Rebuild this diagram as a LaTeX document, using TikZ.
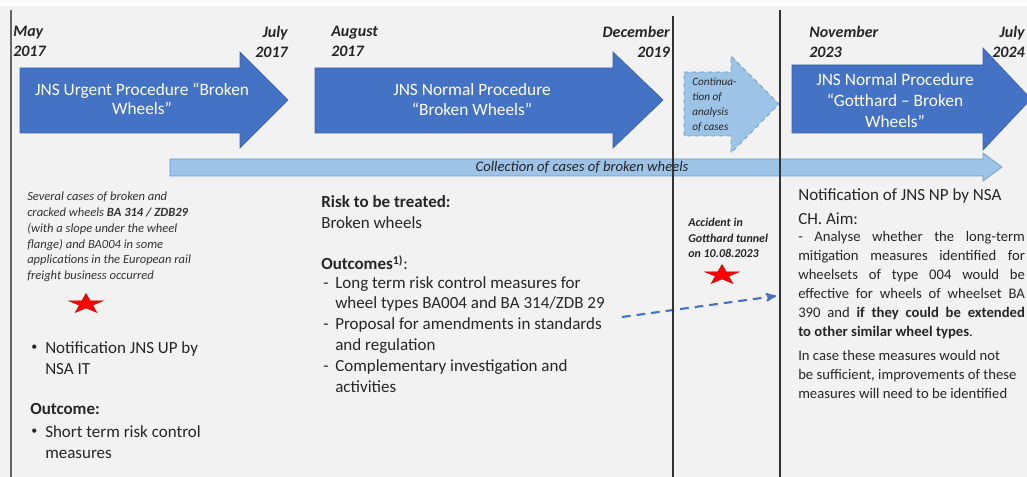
\documentclass[tikz,border=0pt]{standalone}
\usepackage{fontspec}
\setmainfont{Carlito}
\usetikzlibrary{arrows}

\definecolor{slidebg}{HTML}{F2F2F2}
\definecolor{procblue}{HTML}{4472C4}
\definecolor{procedge}{HTML}{3B62AA}
\definecolor{lightblue}{HTML}{9DC3E6}
\definecolor{lightedge}{HTML}{6A9BCB}
\definecolor{txtgray}{HTML}{262626}

\begin{document}
\begin{tikzpicture}[x=0.75pt,y=-0.75pt,>=stealth',
  proc/.style={fill=procblue,draw=procedge,line width=0.5pt},
  bar/.style={fill=lightblue,draw=lightedge,line width=0.5pt},
  cont/.style={fill=lightblue,draw=lightedge,dashed,line width=0.6pt},
  date/.style={inner sep=0pt,font=\fontsize{12}{15}\selectfont\bfseries\itshape,text=txtgray},
  proctxt/.style={inner sep=0pt,align=center,text=white,font=\fontsize{13}{15}\selectfont},
  body/.style={inner sep=0pt,anchor=north west,align=left,text=txtgray,font=\fontsize{12.75}{15.75}\selectfont},
  note/.style={inner sep=0pt,anchor=north west,align=left,text=black!75,font=\fontsize{9.4}{11.8}\selectfont\itshape},
  dot/.style={inner sep=0pt,anchor=west,text=txtgray,font=\fontsize{9}{9}\selectfont},
  sep/.style={line width=1.1pt,draw=black!80}]
  \useasboundingbox (0,0) rectangle (1027,477);
  \clip (0,0) rectangle (1027,477);
  \fill[white] (0,0) rectangle (1027,477);
  \fill[slidebg] (0,6) rectangle (1027,477);

  % procedure arrows
  \fill[proc] (20,68) -- (240,68) -- (240,52) -- (288,100) -- (240,148) -- (240,133) -- (20,133) -- cycle;
  \fill[proc] (315,68) -- (613,68) -- (613,52) -- (663,100) -- (613,148) -- (613,133) -- (315,133) -- cycle;
  \filldraw[cont] (684,72) -- (731,72) -- (731,56) -- (779,104) -- (731,153) -- (731,136) -- (684,136) -- cycle;
  \filldraw[proc] (792,65) -- (983,65) -- (983,48) -- (1031,99) -- (983,150) -- (983,133) -- (792,133) -- cycle;
  \filldraw[bar] (170,159) -- (983,159) -- (983,153) -- (1002,167) -- (983,181) -- (983,176) -- (170,176) -- cycle;

  \node[proctxt,font=\fontsize{13}{13.9}\selectfont] (urgent) at (142,99) {JNS Urgent Procedure “Broken\\Wheels”};
  \node[proctxt] (normal) at (472,100) {JNS Normal Procedure\\“Broken Wheels”};
  \node[proctxt,font=\fontsize{13}{15.75}\selectfont] (gotthard) at (895,101) {JNS Normal Procedure\\“Gotthard – Broken\\Wheels”};
  \node[note,text=txtgray,font=\fontsize{8.4}{11.25}\selectfont\itshape] (contin) at (692,77) {Continua-\\tion of\\analysis\\of cases};
  \node[inner sep=0pt,text=txtgray,font=\fontsize{11}{13}\selectfont\itshape] (collect) at (582,167) {Collection of cases of broken wheels};

  % dates
  \node[date,anchor=north west,align=left] (d1) at (13,26) {May\\2017};
  \node[date,anchor=north east,align=right] (d2) at (288,26) {July\\2017};
  \node[date,anchor=north west,align=left] (d3) at (331,26) {August\\2017};
  \node[date,anchor=north east,align=right] (d4) at (670,26) {December\\2019};
  \node[date,anchor=north west,align=left] (d5) at (809,26) {November\\2023};
  \node[date,anchor=north east,align=right] (d6) at (1025,26) {July\\2024};

  % urgent procedure
  \node[note,text=black!80] (cases) at (27,192) {Several cases of broken and\\cracked wheels \textbf{BA 314 / ZDB29}\\(with a slope under the wheel\\flange) and BA004 in some\\applications in the European rail\\freight business occurred};
  \node[dot] (bul1) at (31,348) {•};
  \node[body,font=\fontsize{12.75}{16.1}\selectfont] (notifup) at (45,341) {Notification JNS UP by\\NSA IT};
  \node[body] (outc) at (30,403) {\textbf{Outcome:}};
  \node[dot] (bul2) at (31,432) {•};
  \node[body,font=\fontsize{12.75}{16.1}\selectfont] (shortterm) at (45,425) {Short term risk control\\measures};

  % normal procedure
  \node[body] (risk) at (321,195) {\textbf{Risk to be treated:}\\Broken wheels};
  \node[body] (outcs) at (321,255) {\textbf{Outcomes\textsuperscript{1)}}:};
  \node[body,font=\fontsize{12.75}{15.6}\selectfont] (measures) at (323,276)
    {\makebox[9pt][l]{-}Long term risk control measures for\\\hspace*{9pt}wheel types BA004 and BA 314/ZDB 29\\
     \makebox[9pt][l]{-}Proposal for amendments in standards\\\hspace*{9pt}and regulation\\
     \makebox[9pt][l]{-}Complementary investigation and\\\hspace*{9pt}activities};

  % accident
  \node[inner sep=0pt,anchor=north west,align=left,text=txtgray,font=\fontsize{9}{11.6}\selectfont\bfseries\itshape] (accid) at (688,218) {Accident in\\Gotthard tunnel\\on 10.08.2023};
  \foreach \sx/\sy in {86/304,722/275}
    \filldraw[red,draw=red!75!black,line width=0.3pt,shift={(\sx,\sy)},xscale=1.75]
      plot[samples at={0,...,9}] ({-90+36*\x}:{10.5-6.5*mod(\x,2)}) -- cycle;

  % Gotthard procedure
  \node[body,font=\fontsize{12.75}{18}\selectfont] (notifnp) at (798,188) {Notification of JNS NP by NSA\\CH. Aim:};
  \node[body,align=justify,text width=170pt,font=\fontsize{11}{14.25}\selectfont] (aim) at (798,231)
    {- Analyse whether the long-term\linebreak mitigation measures identified for\linebreak wheelsets of type 004 would be\linebreak effective for wheels of wheelset BA\linebreak 390 and \textbf{if they could be extended}\linebreak \textbf{to other similar wheel types}.};
  \node[body,font=\fontsize{11}{14.25}\selectfont] (incase) at (798,350) {In case these measures would not\\be sufficient, improvements of these\\measures will need to be identified};

  \coordinate (dfrom) at (622,317);
  \coordinate (dto) at (776,296);
  \draw[->,procblue,line width=1.6pt,dash pattern=on 6.5pt off 4.5pt] (dfrom) -- (dto);

  % separators
  \draw[line width=1.5pt,draw=black!60] (11,10) -- (11,477);
  \draw[sep] (673,16) -- (673,477);
  \draw[sep] (780,10) -- (780,477);
\end{tikzpicture}
\end{document}
